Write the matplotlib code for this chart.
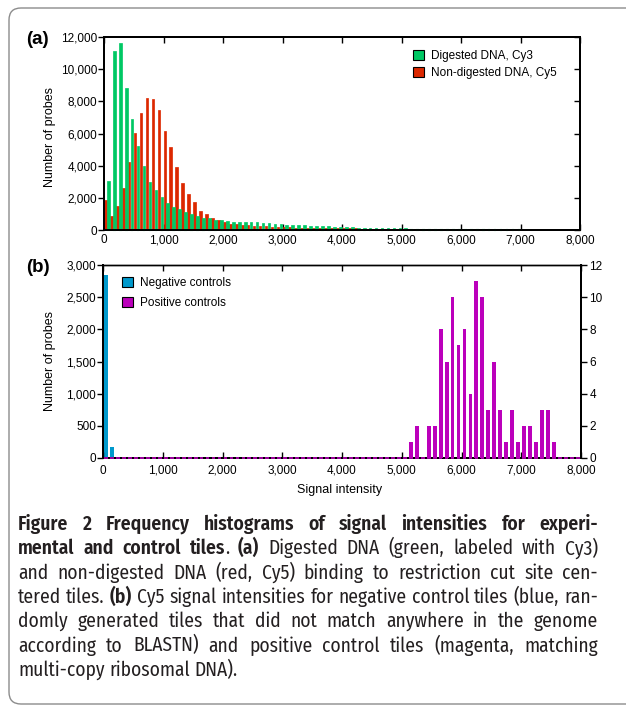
import matplotlib.pyplot as plt
import numpy as np
from matplotlib import font_manager
from matplotlib.patches import FancyBboxPatch, Patch

plt.rcParams['font.family'] = ['Liberation Sans', 'DejaVu Sans']

# bins of 100 signal units, 0 .. 8000
bin_starts = np.arange(0, 8000, 100)

# (a) digested DNA (Cy3) and non-digested DNA (Cy5)
digested_cy3 = [3040, 11120, 11610, 8820, 6890, 5220, 3975, 2980, 2480, 2050,
                1680, 1430, 1300, 1120, 990, 870, 745, 745, 620, 620,
                560, 500, 500, 500, 500, 500, 430, 430, 370, 370,
                310, 310, 310, 310, 250, 250, 250, 250, 190, 190,
                190, 190, 130, 130, 130, 130, 130, 130, 130, 150,
                110, 90, 80, 70, 60, 60, 50, 50, 40, 40,
                40, 30, 30, 30, 30, 20, 20, 20, 20, 20,
                0, 0, 0, 0, 0, 0, 0, 0, 0, 0]
nondigested_cy5 = [1860, 870, 1490, 2610, 4220, 6020, 7270, 8200, 8140, 7450,
                   6150, 5160, 3910, 2920, 2240, 1740, 1180, 990, 745, 620,
                   500, 370, 370, 310, 310, 250, 250, 250, 190, 190,
                   190, 190, 130, 130, 130, 130, 130, 120, 120, 120,
                   100, 100, 100, 80, 80, 80, 60, 60, 60, 60,
                   40, 30, 20, 20, 10, 10, 0, 0, 0, 0,
                   0, 0, 0, 0, 0, 0, 0, 0, 0, 0,
                   0, 0, 0, 0, 0, 0, 0, 0, 0, 0]

# (b) negative controls (left axis) and positive controls (right axis)
negative_ctrl = [2850, 170, 20] + [0] * 77
positive_ctrl = [0, 0, 0, 0, 0, 0, 0, 0, 0, 0,
                 0, 0, 0, 0, 0, 0, 0, 0, 0, 0,
                 0, 0, 0, 0, 0, 0, 0, 0, 0, 0,
                 0, 0, 0, 0, 0, 0, 0, 0, 0, 0,
                 0, 0, 0, 0, 0, 0, 0, 0, 0, 0,
                 0, 1, 2, 0, 2, 2, 8, 6, 10, 7,
                 8, 4, 11, 10, 3, 6, 3, 1, 3, 1,
                 2, 2, 1, 3, 3, 1, 0, 0, 0, 0]

GREEN = '#00c864'
RED = '#dc2800'
BLUE = '#0099cc'
MAGENTA = '#bb00bb'

W, H = 626, 717
fig = plt.figure(figsize=(W / 100, H / 100), dpi=100)

# overlay in pixel coords for frame and caption
ov = fig.add_axes([0, 0, 1, 1])
ov.set_xlim(0, W)
ov.set_ylim(H, 0)
ov.axis('off')
ov.add_patch(FancyBboxPatch((9, 8), 680, 696, boxstyle='round,pad=0,rounding_size=12',
                            fc='white', ec='#8c8c8c', lw=1))


def px_axes(l, t, r, b):
    return fig.add_axes([l / W, 1 - b / H, (r - l) / W, (b - t) / H])


def fmt(v):
    return '{:,}'.format(int(v))


# ---------- panel (a) ----------
ax1 = px_axes(104, 37, 580, 230)
g = np.array(digested_cy3)
r = np.array(nondigested_cy5)
mg = g > 0
mr = r > 0
ax1.bar(bin_starts[mr], r[mr], width=45, align='edge', color=RED, ec=RED, lw=0.5, zorder=3)
ax1.bar(bin_starts[mg] + 50, g[mg], width=45, align='edge', color=GREEN, ec=GREEN, lw=0.5, zorder=3)
# tiny counts show as dashes on the baseline
ax1.hlines(np.zeros(mg.sum()), bin_starts[mg] + 50, bin_starts[mg] + 95, color=GREEN, lw=1.5,
           zorder=3, clip_on=False)
ax1.set_xlim(0, 8000)
ax1.set_ylim(0, 12000)
ax1.set_xticks(range(0, 8001, 1000))
ax1.set_xticklabels([fmt(v) for v in range(0, 8001, 1000)])
ax1.set_yticks(range(0, 12001, 2000))
ax1.set_yticklabels([fmt(v) for v in range(0, 12001, 2000)])
ax1.tick_params(axis='x', direction='in', top=True, length=4, width=1, labelsize=8.5, pad=3)
ax1.tick_params(axis='y', direction='out', length=4, width=1, labelsize=8.5, pad=1)
r1 = ax1.twinx()
r1.set_ylim(0, 12000)
r1.set_yticks(range(0, 12001, 2000))
r1.tick_params(axis='y', direction='in', length=4, width=1, labelright=False)
for a in (ax1, r1):
    for s in a.spines.values():
        s.set_linewidth(1.4)

leg_a = [Patch(fc=GREEN, ec='black', lw=0.8, label='Digested DNA, Cy3'),
         Patch(fc=RED, ec='black', lw=0.8, label='Non-digested DNA, Cy5')]
ax1.legend(handles=leg_a, loc='upper left', bbox_to_anchor=((413 - 104) / 476, (230 - 50) / 193),
           frameon=False, fontsize=8.5, borderpad=0, borderaxespad=0, handlelength=0.9,
           handleheight=0.9, handletextpad=0.6, labelspacing=0.45)

# ---------- panel (b) ----------
ax2 = px_axes(103, 265, 581, 458)
ax2.bar(bin_starts + 50, negative_ctrl, width=65, color=BLUE, lw=0)
ax2.set_xlim(0, 8000)
ax2.set_ylim(0, 3000)
ax2.set_xticks(range(0, 8001, 1000))
ax2.set_xticklabels([fmt(v) for v in range(0, 8001, 1000)])
ax2.set_yticks(range(0, 3001, 500))
ax2.set_yticklabels([fmt(v) for v in range(0, 3001, 500)])
ax2.tick_params(axis='x', direction='in', top=True, length=4, width=1, labelsize=8.5, pad=5)
ax2.tick_params(axis='y', direction='out', length=4, width=1, labelsize=8.5, pad=1)
r2 = ax2.twinx()
r2.bar(bin_starts + 50, positive_ctrl, width=65, color=MAGENTA, lw=0, zorder=3)
# zero-count bins drawn as dashes along the baseline
r2.hlines(np.zeros(len(bin_starts)), bin_starts + 18, bin_starts + 82, color=MAGENTA, lw=1.2,
          zorder=3, clip_on=False)
r2.set_ylim(0, 12)
r2.set_yticks(range(0, 13, 2))
r2.tick_params(axis='y', direction='out', length=4, width=1, labelsize=8.5, pad=2)
for a in (ax2, r2):
    for s in a.spines.values():
        s.set_linewidth(1.0)
    a.spines['left'].set_linewidth(1.4)
    a.spines['right'].set_linewidth(1.4)
    a.spines['bottom'].set_linewidth(1.4)

leg_b = [Patch(fc=BLUE, ec='black', lw=0.8, label='Negative controls'),
         Patch(fc=MAGENTA, ec='black', lw=0.8, label='Positive controls')]
r2.legend(handles=leg_b, loc='upper left', bbox_to_anchor=((122 - 103) / 478, (458 - 277) / 193),
          frameon=False, fontsize=8.5, borderpad=0, borderaxespad=0, handlelength=0.9,
          handleheight=0.9, handletextpad=0.6, labelspacing=0.7)

# panel labels and axis titles
ov.text(26, 40, '(a)', fontsize=13.5, fontweight='bold', va='center', ha='left')
ov.text(26, 268, '(b)', fontsize=13.5, fontweight='bold', va='center', ha='left')
ov.text(50, 137, 'Number of probes', rotation=90, fontsize=9, va='center', ha='center')
ov.text(50, 361, 'Number of probes', rotation=90, fontsize=9, va='center', ha='center')
ov.text(340, 490, 'Signal intensity', fontsize=9, va='center', ha='center')

# ---------- caption (justified) ----------
caption = [
    [('Figure 2 Frequency histograms of signal intensities for experi-', 'B')],
    [('mental and control tiles', 'B'), ('. ', 'R'), ('(a)', 'B'),
     (' Digested DNA (green, labeled with Cy3)', 'R')],
    [('and non-digested DNA (red, Cy5) binding to restriction cut site cen-', 'R')],
    [('tered tiles. ', 'R'), ('(b)', 'B'),
     (' Cy5 signal intensities for negative control tiles (blue, ran-', 'R')],
    [('domly generated tiles that did not match anywhere in the genome', 'R')],
    [('according to BLASTN) and positive control tiles (magenta, matching', 'R')],
    [('multi-copy ribosomal DNA).', 'R')],
]

# pick a Myriad-like family that has static regular and bold faces
cap_font, reg_w, bold_w = 'Open Sans', 'normal', 'bold'
faces = {}
for f in font_manager.fontManager.ttflist:
    if f.style == 'normal':
        faces.setdefault(f.name, set()).add(f.weight)
for cand in ['Myriad Pro', 'Source Sans Pro', 'Fira Sans Condensed', 'Asap Condensed',
             'Encode Sans Semi Condensed', 'Hind', 'PT Sans']:
    ws = faces.get(cand, set())
    if 400 in ws and (600 in ws or 700 in ws):
        cap_font = cand
        bold_w = 600 if 600 in ws else 700
        reg_w = 400
        break
cap_family = [cap_font, 'DejaVu Sans']
weights = {'R': reg_w, 'B': bold_w}
cap_color = '#231f20'
x0, x1 = 18, 598
renderer = fig.canvas.get_renderer()


def split_words(runs):
    words = [[]]
    for text, wt in runs:
        parts = text.split(' ')
        for i, p in enumerate(parts):
            if i > 0:
                words.append([])
            if p:
                words[-1].append((p, weights[wt]))
    return [w for w in words if w]


def seg_width(text, wt, fs):
    t = ov.text(0, 0, text, fontsize=fs, fontweight=wt, family=cap_family)
    w = t.get_window_extent(renderer).width
    t.remove()
    return w


fs = 14.5
lines = [split_words(l) for l in caption]
# shrink font until every line fits with normal spaces
while True:
    sp = seg_width('a a', reg_w, fs) - seg_width('aa', reg_w, fs)
    widest = 0
    for words in lines:
        tot = sum(seg_width(t, wt, fs) for w in words for t, wt in w) + sp * (len(words) - 1)
        widest = max(widest, tot)
    if widest <= (x1 - x0) or fs < 8:
        break
    fs -= 0.25

for i, words in enumerate(lines):
    y = 530 + 24.3 * i
    wws = [[seg_width(t, wt, fs) for t, wt in w] for w in words]
    tot = sum(sum(w) for w in wws)
    if i < len(lines) - 1 and len(words) > 1:
        gap = (x1 - x0 - tot) / (len(words) - 1)
    else:
        gap = sp
    x = x0
    for w, ws in zip(words, wws):
        for (t, wt), sw in zip(w, ws):
            ov.text(x, y, t, fontsize=fs, fontweight=wt, family=cap_family, color=cap_color,
                    va='baseline', ha='left')
            x += sw
        x += gap

fig.savefig('out.png', dpi=100)
